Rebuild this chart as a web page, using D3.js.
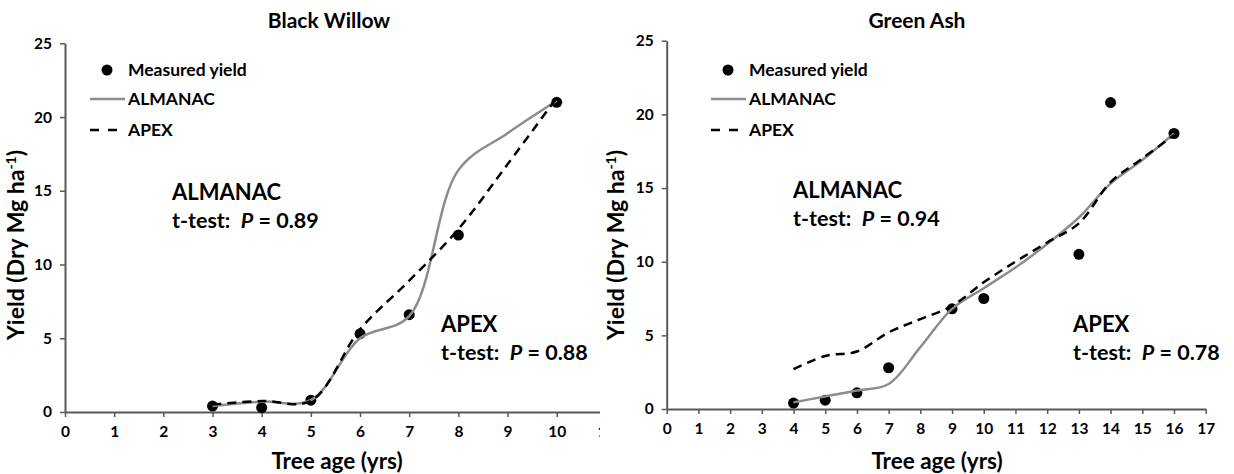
<!DOCTYPE html>
<html>
<head>
<meta charset="utf-8">
<script src="https://cdn.jsdelivr.net/npm/d3@7"></script>
<style>
  body { margin: 0; background: #fff; }
  svg text { font-family: Lato, "Open Sans", sans-serif; font-weight: bold; fill: #000; }
  .tick text { font-size: 15.5px; }
</style>
</head>
<body>
<div id="chart"></div>
<script>
// values
var yTicks = [0, 5, 10, 15, 20, 25];

// Black Willow
var willowXTicks = [0, 1, 2, 3, 4, 5, 6, 7, 8, 9, 10, 11];
var willowAge = [3, 4, 5, 6, 7, 8, 10];
var willowMeasured = [0.4, 0.3, 0.8, 5.3, 6.6, 12.0, 21.0];
var willowModelAge = [3, 4, 5, 6, 7, 8, 9, 10];
var willowAlmanac = [0.4, 0.7, 0.8, 5.0, 6.5, 16.4, 18.9, 21.1];
var willowApex = [0.5, 0.75, 0.75, 5.6, 8.9, 12.4, 16.8, 21.3];

// Green Ash
var ashXTicks = [0, 1, 2, 3, 4, 5, 6, 7, 8, 9, 10, 11, 12, 13, 14, 15, 16, 17];
var ashAge = [4, 5, 6, 7, 9, 10, 13, 14, 16];
var ashMeasured = [0.4, 0.6, 1.1, 2.8, 6.8, 7.5, 10.5, 20.8, 18.7];
var ashModelAge = [4, 5, 6, 7, 8, 9, 10, 11, 12, 13, 14, 15, 16];
var ashAlmanac = [0.45, 0.85, 1.25, 1.7, 4.2, 6.8, 8.2, 9.6, 11.2, 13.0, 15.3, 16.9, 18.7];
var ashApex = [2.7, 3.6, 3.9, 5.2, 6.1, 7.0, 8.6, 10.0, 11.3, 12.6, 15.4, 17.0, 18.6];

var W = 1234, H = 474;
var axisColor = "#595959";
var almanacColor = "#8c8c8c";

var svg = d3.select("#chart")
  .append("svg")
    .attr("width", W)
    .attr("height", H);

svg.append("defs").append("clipPath")
    .attr("id", "leftClip")
  .append("rect")
    .attr("x", 0).attr("y", 0)
    .attr("width", 600).attr("height", H);

function drawPanel(p) {
  var g = svg.append("g");
  if (p.clip) g.attr("clip-path", "url(#" + p.clip + ")");

  var x = d3.scaleLinear().domain(p.xDomain).range(p.xRange);
  var y = d3.scaleLinear().domain([0, 25]).range([p.yBottom, p.yTop]);

  // axes
  var xAxis = g.append("g")
    .attr("transform", "translate(0," + p.yBottom + ")")
    .call(d3.axisBottom(x).tickValues(p.xTicks).tickSize(5).tickSizeOuter(0).tickPadding(9));
  var yAxis = g.append("g")
    .attr("transform", "translate(" + p.xRange[0] + ",0)")
    .call(d3.axisLeft(y).tickValues(yTicks).tickSize(5).tickSizeOuter(0).tickPadding(8));

  [xAxis, yAxis].forEach(function(a) {
    a.attr("font-family", null).attr("font-size", null);
    a.select(".domain").attr("stroke", axisColor).attr("stroke-width", 2);
    a.selectAll(".tick line").attr("stroke", axisColor).attr("stroke-width", 1.5);
    a.selectAll(".tick text").attr("fill", "#000");
  });

  // measured yield points
  g.selectAll(".dot")
    .data(p.age.map(function(a, i) { return [a, p.measured[i]]; }))
    .enter()
    .append("circle")
      .attr("cx", function(d) { return x(d[0]); })
      .attr("cy", function(d) { return y(d[1]); })
      .attr("r", 5.5)
      .attr("fill", "#000");

  var line = d3.line()
    .x(function(d) { return x(d[0]); })
    .y(function(d) { return y(d[1]); })
    .curve(d3.curveCatmullRom.alpha(0.5));

  g.append("path")
    .datum(p.modelAge.map(function(a, i) { return [a, p.almanac[i]]; }))
    .attr("d", line)
    .attr("fill", "none")
    .attr("stroke", almanacColor)
    .attr("stroke-width", 2.5);

  g.append("path")
    .datum(p.modelAge.map(function(a, i) { return [a, p.apex[i]]; }))
    .attr("d", line)
    .attr("fill", "none")
    .attr("stroke", "#000")
    .attr("stroke-width", 2.5)
    .attr("stroke-dasharray", "9,6");

  // title
  svg.append("text")
    .attr("x", p.titleX)
    .attr("y", 28)
    .attr("text-anchor", "middle")
    .style("font-size", "21px")
    .text(p.title);

  // axis titles
  svg.append("text")
    .attr("x", p.xTitleX)
    .attr("y", 469)
    .attr("text-anchor", "middle")
    .style("font-size", "22.5px")
    .text("Tree age (yrs)");

  var yt = svg.append("text")
    .attr("transform", "translate(" + p.yTitleX + ",245) rotate(-90)")
    .attr("text-anchor", "middle")
    .style("font-size", "23px");
  yt.append("tspan").text("Yield (Dry Mg ha");
  yt.append("tspan").attr("dy", -8).style("font-size", "14px").text("-1");
  yt.append("tspan").attr("dy", 8).text(")");

  // legend
  var lg = svg.append("g").attr("transform", "translate(" + p.legendX + ",0)");
  lg.append("circle").attr("cx", 17).attr("cy", 70).attr("r", 5.5).attr("fill", "#000");
  lg.append("line")
    .attr("x1", 0).attr("x2", 35).attr("y1", 99).attr("y2", 99)
    .attr("stroke", almanacColor).attr("stroke-width", 2.5);
  lg.append("line")
    .attr("x1", 0).attr("x2", 27).attr("y1", 130).attr("y2", 130)
    .attr("stroke", "#000").attr("stroke-width", 2.5)
    .attr("stroke-dasharray", "9,9");
  [["Measured yield", 70], ["ALMANAC", 99], ["APEX", 130]].forEach(function(l) {
    lg.append("text")
      .attr("x", 38)
      .attr("y", l[1])
      .attr("dy", "0.36em")
      .style("font-size", "17.5px")
      .text(l[0]);
  });

  // t-test notes
  p.notes.forEach(function(n) {
    svg.append("text")
      .attr("x", n.x)
      .attr("y", n.y)
      .style("font-size", "22px")
      .text(n.model);
    var t2 = svg.append("text")
      .attr("x", n.x)
      .attr("y", n.y + 28)
      .style("font-size", "21.5px")
      .attr("xml:space", "preserve");
    t2.append("tspan").text("t-test:  ");
    t2.append("tspan").style("font-style", "italic").text("P");
    t2.append("tspan").text(" = " + n.p);
  });
}

drawPanel({
  title: "Black Willow",
  titleX: 329,
  clip: "leftClip",
  xDomain: [0, 11],
  xRange: [65, 605.9],
  yBottom: 412,
  yTop: 43.3,
  xTicks: willowXTicks,
  age: willowAge,
  measured: willowMeasured,
  modelAge: willowModelAge,
  almanac: willowAlmanac,
  apex: willowApex,
  xTitleX: 337,
  yTitleX: 24,
  legendX: 90,
  notes: [
    { model: "ALMANAC", p: "0.89", x: 172, y: 200 },
    { model: "APEX", p: "0.88", x: 441, y: 332 }
  ]
});

drawPanel({
  title: "Green Ash",
  titleX: 917,
  xDomain: [0, 17],
  xRange: [666.7, 1205.7],
  yBottom: 409,
  yTop: 40.7,
  xTicks: ashXTicks,
  age: ashAge,
  measured: ashMeasured,
  modelAge: ashModelAge,
  almanac: ashAlmanac,
  apex: ashApex,
  xTitleX: 937,
  yTitleX: 624,
  legendX: 711,
  notes: [
    { model: "ALMANAC", p: "0.94", x: 793, y: 198 },
    { model: "APEX", p: "0.78", x: 1073, y: 332 }
  ]
});
</script>
</body>
</html>
